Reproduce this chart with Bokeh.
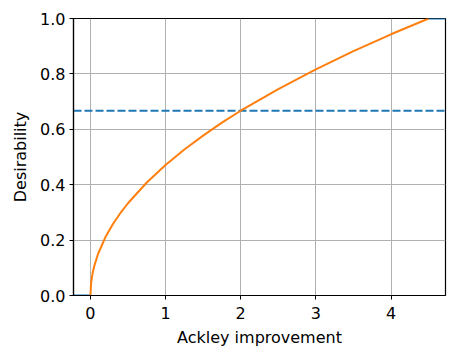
from bokeh.plotting import figure
from bokeh.models import FixedTicker, PrintfTickFormatter, Range1d
from bokeh.embed import file_html
from bokeh.resources import INLINE

# Orange curve: desirability vs Ackley improvement
improvement = [0.0, 0.01, 0.03, 0.05, 0.1, 0.2, 0.3, 0.4, 0.5, 0.75, 1.0, 1.25, 1.5, 1.75, 2.0, 2.5, 3.0, 3.5, 4.0, 4.5]
desirability = [0.0, 0.047, 0.082, 0.105, 0.149, 0.211, 0.258, 0.298, 0.333, 0.408, 0.471, 0.527, 0.577, 0.624, 0.667, 0.745, 0.816, 0.882, 0.943, 1.0]

# Blue solid pieces outside the curve range
low_x = [-0.225, 0.0]
low_y = [0.0, 0.0]
high_x = [4.5, 4.725]
high_y = [1.0, 1.0]

# Dashed threshold
threshold = 0.667
x_ticks = [0, 1, 2, 3, 4]
y_ticks = [0.0, 0.2, 0.4, 0.6, 0.8, 1.0]

p = figure(width=455, height=350, output_backend="svg", toolbar_location=None,
           x_range=Range1d(-0.225, 4.725), y_range=Range1d(0, 1),
           min_border_left=73, min_border_right=10, min_border_top=18, min_border_bottom=55)

p.line(low_x, low_y, line_color="#1f77b4", line_width=2)
p.line(high_x, high_y, line_color="#1f77b4", line_width=2)
p.line([-0.225, 4.725], [threshold, threshold], line_color="#1f77b4", line_width=2, line_dash="8 3")
p.line(improvement, desirability, line_color="#ff7f0e", line_width=2)

p.xaxis.ticker = FixedTicker(ticks=x_ticks)
p.yaxis.ticker = FixedTicker(ticks=y_ticks)
p.yaxis.formatter = PrintfTickFormatter(format="%.1f")
p.xaxis.axis_label = "Ackley improvement"
p.yaxis.axis_label = "Desirability"

for ax in [p.xaxis, p.yaxis]:
    ax.axis_label_text_font = "DejaVu Sans"
    ax.axis_label_text_font_size = "16px"
    ax.axis_label_text_font_style = "normal"
    ax.axis_label_text_color = "black"
    ax.major_label_text_font = "DejaVu Sans"
    ax.major_label_text_font_size = "16px"
    ax.major_label_text_color = "black"
    ax.axis_line_color = "black"
    ax.axis_line_width = 1.2
    ax.major_tick_line_color = "black"
    ax.major_tick_in = 0
    ax.major_tick_out = 4
    ax.minor_tick_line_color = None

p.xaxis.major_label_standoff = 7
p.xaxis.axis_label_standoff = 6
p.yaxis.major_label_standoff = 4
p.yaxis.axis_label_standoff = 7

p.grid.grid_line_color = "#b0b0b0"
p.grid.grid_line_width = 1
p.outline_line_color = "black"
p.outline_line_width = 1.2
p.outline_line_alpha = 1
p.background_fill_color = "white"
p.border_fill_color = "white"

open("out.html", "w").write(file_html(p, INLINE))
